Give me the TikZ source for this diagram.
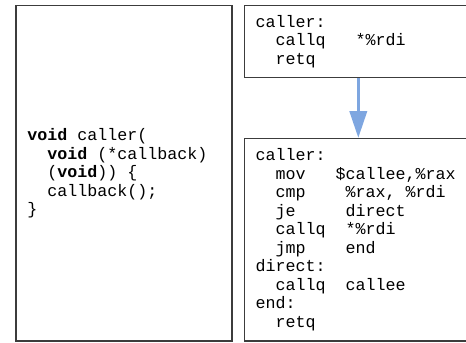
\documentclass[tikz,border=0pt]{standalone}
\usepackage{fontspec}
\setmonofont{Liberation Mono}
\usepackage{tikz}
\usetikzlibrary{arrows.meta,positioning}

\definecolor{edgegray}{HTML}{3C3C3C}
\definecolor{flowblue}{HTML}{7EA6E0}

% blank columns in the monospaced listings
\newcommand{\col}[1]{\hspace*{#1\dimexpr0.6em\relax}}

\begin{document}
\begin{tikzpicture}[x=0.75pt,y=0.75pt,yscale=-1,xscale=1,
  codebox/.style={draw=edgegray, line width=0.8pt, align=left, inner xsep=8.6pt, inner ysep=2pt,
    font=\ttfamily\fontsize{12.5pt}{13.85pt}\selectfont},
  flow/.style={draw=flowblue, line width=2pt, -{Triangle[length=20pt,width=13pt]}}]
%set diagram left start at 0, and has height of 342
\clip (0,0) rectangle (466,342);

%Shape: Rectangle, C source
\node[codebox, text width=144.8pt, minimum height=251.6pt] (src) at (124,173.25) {%
\textbf{void}\col1caller(\\
\col2\textbf{void}\col1(*callback)\\
\col2(\textbf{void}))\col1\{\\
\col2callback();\\
\}};

%Shape: Rectangle, plain indirect call
\node[codebox, text width=154.2pt, minimum height=54pt] (plain) at (358.3,41.5) {%
caller:\\
\col2callq\col3*\%rdi\\
\col2retq};

%Shape: Rectangle, promoted call
\node[codebox, text width=154.2pt, minimum height=152pt] (promo) at (358.3,239.65) {%
caller:\\
\col2mov\col3\$callee,\%rax\\
\col2cmp\col4\%rax,\col1\%rdi\\
\col2je\col5direct\\
\col2callq\col2*\%rdi\\
\col2jmp\col4end\\
direct:\\
\col2callq\col2callee\\
end:\\
\col2retq};

% Connection
\draw[flow] (plain) -- (promo);

\end{tikzpicture}
\end{document}
